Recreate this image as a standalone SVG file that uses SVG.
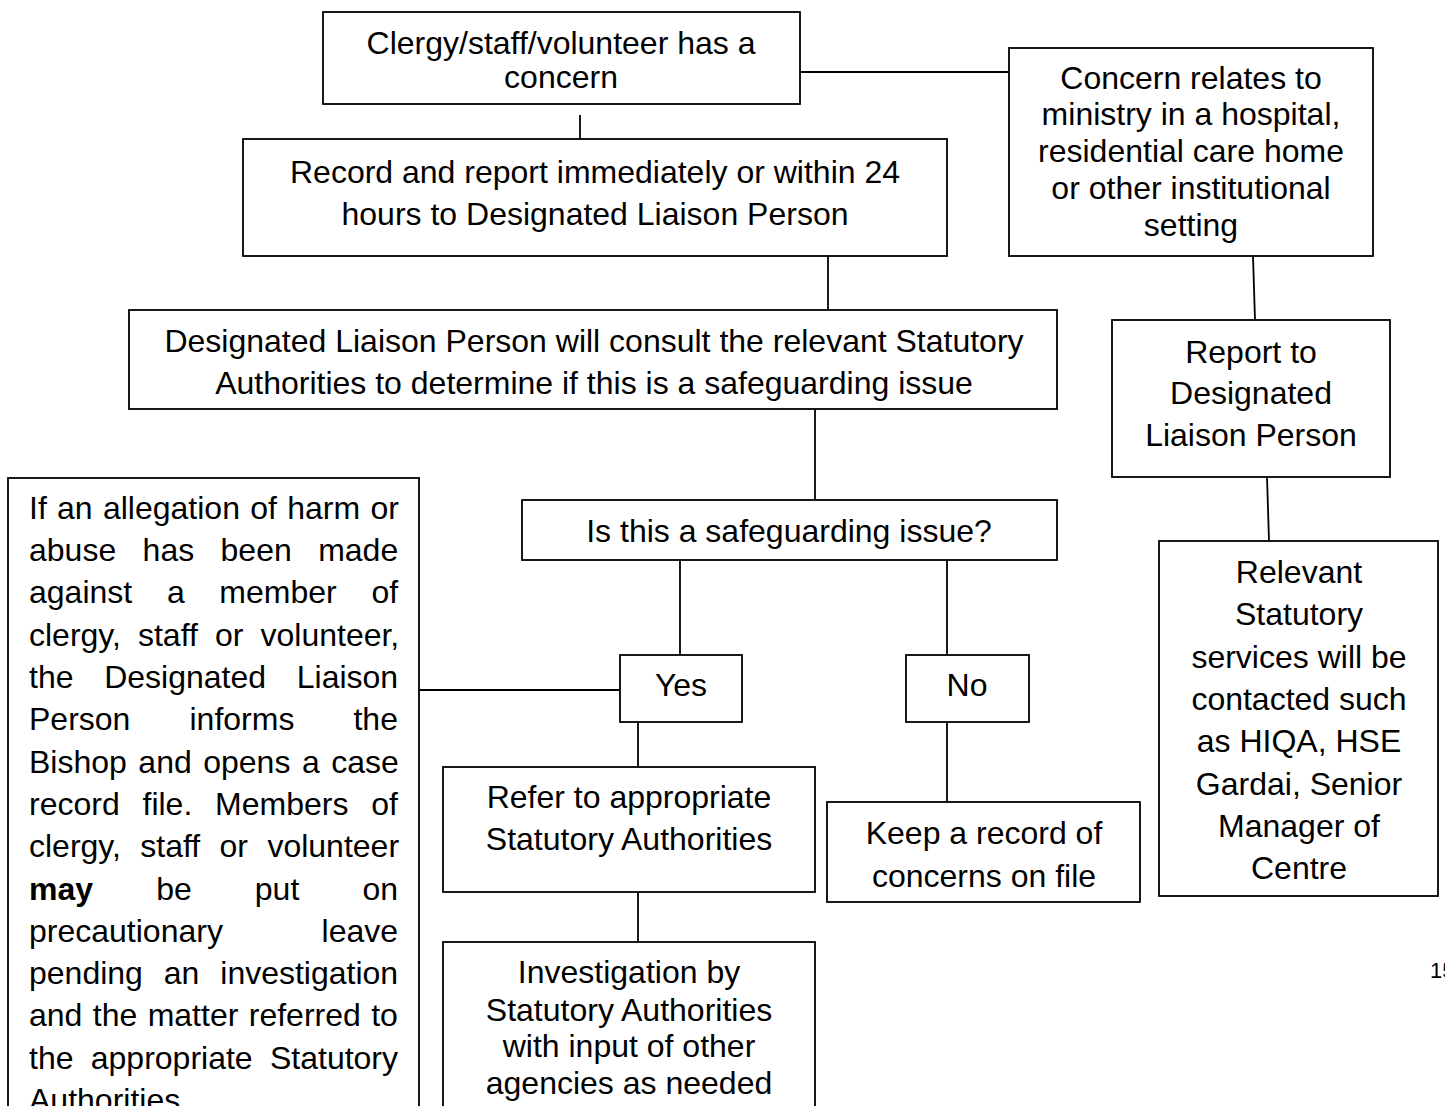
<svg xmlns="http://www.w3.org/2000/svg" width="1445" height="1106" viewBox="0 0 1445 1106">
<style>
  .box { fill: #fff; stroke: #000; stroke-width: 1.8; }
  .ln { stroke: #000; stroke-width: 1.8; fill: none; }
  text { font-family: "Liberation Sans", Arial, sans-serif; font-size: 32px; fill: #000; }
  .c { text-anchor: middle; }
  .b { font-weight: bold; }
  .pg { font-size: 22px; }
</style>
<rect x="0" y="0" width="1445" height="1106" fill="#fff"/>
<g id="connectors">
  <line class="ln" x1="800" y1="72" x2="1009" y2="72"/>
  <line class="ln" x1="580" y1="115" x2="580" y2="139"/>
  <line class="ln" x1="828" y1="256" x2="828" y2="310"/>
  <line class="ln" x1="815" y1="409" x2="815" y2="500"/>
  <line class="ln" x1="680" y1="560" x2="680" y2="655"/>
  <line class="ln" x1="947" y1="560" x2="947" y2="655"/>
  <line class="ln" x1="419" y1="690" x2="620" y2="690"/>
  <line class="ln" x1="638" y1="722" x2="638" y2="767"/>
  <line class="ln" x1="947" y1="722" x2="947" y2="802"/>
  <line class="ln" x1="638" y1="892" x2="638" y2="942"/>
  <line class="ln" x1="1253" y1="256" x2="1255" y2="320"/>
  <line class="ln" x1="1267" y1="477" x2="1269" y2="541"/>
</g>
<g id="n-concern">
  <rect class="box" x="323" y="12" width="477" height="92"/>
  <text class="c" x="561" y="54">Clergy/staff/volunteer has a</text>
  <text class="c" x="561" y="88">concern</text>
</g>
<g id="n-record">
  <rect class="box" x="243" y="139" width="704" height="117"/>
  <text class="c" x="595" y="183">Record and report immediately or within 24</text>
  <text class="c" x="595" y="225">hours to Designated Liaison Person</text>
</g>
<g id="n-consult">
  <rect class="box" x="129" y="310" width="928" height="99"/>
  <text class="c" x="594" y="352">Designated Liaison Person will consult the relevant Statutory</text>
  <text class="c" x="594" y="394">Authorities to determine if this is a safeguarding issue</text>
</g>
<g id="n-question">
  <rect class="box" x="522" y="500" width="535" height="60"/>
  <text class="c" x="789" y="542">Is this a safeguarding issue?</text>
</g>
<g id="n-yes">
  <rect class="box" x="620" y="655" width="122" height="67"/>
  <text class="c" x="681" y="696">Yes</text>
</g>
<g id="n-no">
  <rect class="box" x="906" y="655" width="123" height="67"/>
  <text class="c" x="967" y="696">No</text>
</g>
<g id="n-refer">
  <rect class="box" x="443" y="767" width="372" height="125"/>
  <text class="c" x="629" y="808">Refer to appropriate</text>
  <text class="c" x="629" y="850">Statutory Authorities</text>
</g>
<g id="n-keep">
  <rect class="box" x="827" y="802" width="313" height="100"/>
  <text class="c" x="984" y="844">Keep a record of</text>
  <text class="c" x="984" y="887">concerns on file</text>
</g>
<g id="n-investigation">
  <rect class="box" x="443" y="942" width="372" height="190"/>
  <text class="c" x="629" y="983">Investigation by</text>
  <text class="c" x="629" y="1021">Statutory Authorities</text>
  <text class="c" x="629" y="1057">with input of other</text>
  <text class="c" x="629" y="1094">agencies as needed</text>
</g>
<g id="n-institution">
  <rect class="box" x="1009" y="48" width="364" height="208"/>
  <text class="c" x="1191" y="89">Concern relates to</text>
  <text class="c" x="1191" y="125">ministry in a hospital,</text>
  <text class="c" x="1191" y="162">residential care home</text>
  <text class="c" x="1191" y="199">or other institutional</text>
  <text class="c" x="1191" y="236">setting</text>
</g>
<g id="n-report">
  <rect class="box" x="1112" y="320" width="278" height="157"/>
  <text class="c" x="1251" y="363">Report to</text>
  <text class="c" x="1251" y="404">Designated</text>
  <text class="c" x="1251" y="446">Liaison Person</text>
</g>
<g id="n-relevant">
  <rect class="box" x="1159" y="541" width="279" height="355"/>
  <text class="c" x="1299" y="583">Relevant</text>
  <text class="c" x="1299" y="625">Statutory</text>
  <text class="c" x="1299" y="668">services will be</text>
  <text class="c" x="1299" y="710">contacted such</text>
  <text class="c" x="1299" y="752">as HIQA, HSE</text>
  <text class="c" x="1299" y="795">Gardai, Senior</text>
  <text class="c" x="1299" y="837">Manager of</text>
  <text class="c" x="1299" y="879">Centre</text>
</g>
<g id="n-allegation">
  <rect class="box" x="8" y="478" width="411" height="660"/>
  <text x="29" y="519" word-spacing="1.4">If an allegation of harm or</text>
  <text x="29" y="561" word-spacing="17.5">abuse has been made</text>
  <text x="29" y="603" word-spacing="25.8">against a member of</text>
  <text x="29" y="646" word-spacing="8.2">clergy, staff or volunteer,</text>
  <text x="29" y="688" word-spacing="21.8">the Designated Liaison</text>
  <text x="29" y="730" word-spacing="50.2">Person informs the</text>
  <text x="29" y="773" word-spacing="2.6">Bishop and opens a case</text>
  <text x="29" y="815" word-spacing="13.9">record file. Members of</text>
  <text x="29" y="857" word-spacing="10.5">clergy, staff or volunteer</text>
  <text x="29" y="900" word-spacing="54.2"><tspan class="b">may</tspan> be put on</text>
  <text x="29" y="942" word-spacing="89.8">precautionary leave</text>
  <text x="29" y="984" word-spacing="12">pending an investigation</text>
  <text x="29" y="1026" word-spacing="1.5">and the matter referred to</text>
  <text x="29" y="1069" word-spacing="8.4">the appropriate Statutory</text>
  <text x="29" y="1111">Authorities</text>
</g>
<text class="pg" x="1430" y="978">15</text>
</svg>
